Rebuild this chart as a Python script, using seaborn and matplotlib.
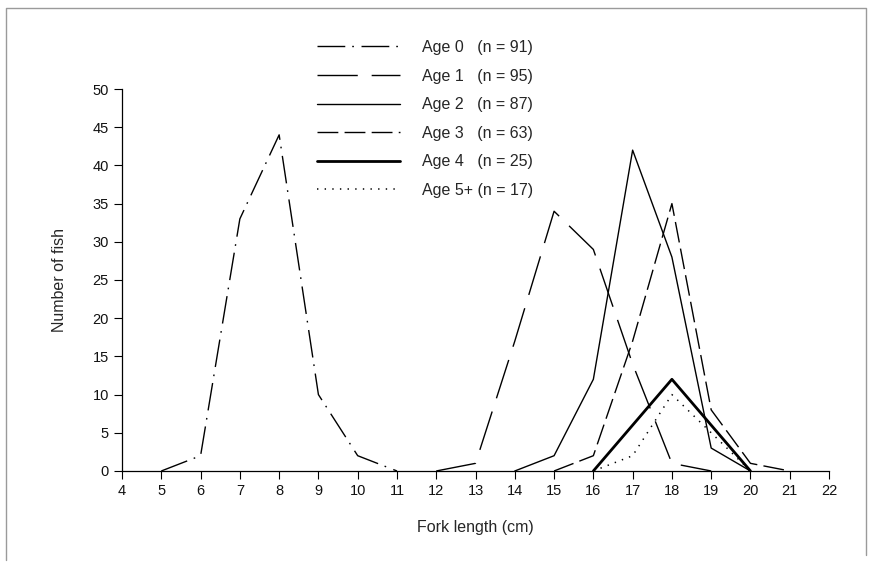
import pandas as pd
import seaborn as sns
import matplotlib.pyplot as plt
from matplotlib.lines import Line2D

# Fork length frequencies per age class
age0_len = [5, 6, 7, 8, 9, 10, 11]
age0_n = [0, 2, 33, 44, 10, 2, 0]
age1_len = [12, 13, 14, 15, 16, 17, 18, 19]
age1_n = [0, 1, 17, 34, 29, 14, 1, 0]
age2_len = [14, 15, 16, 17, 18, 19, 20]
age2_n = [0, 2, 12, 42, 28, 3, 0]
age3_len = [15, 16, 17, 18, 19, 20, 21]
age3_n = [0, 2, 17, 35, 8, 1, 0]
age4_len = [16, 17, 18, 19, 20]
age4_n = [0, 6, 12, 6, 0]
age5_len = [16, 17, 18, 19, 20]
age5_n = [0, 2, 10, 5, 0]

labels = ["Age 0   (n = 91)", "Age 1   (n = 95)", "Age 2   (n = 87)",
          "Age 3   (n = 63)", "Age 4   (n = 25)", "Age 5+ (n = 17)"]
x_ticks = list(range(4, 23))
y_ticks = list(range(0, 51, 5))

sns.set_style("ticks")
plt.rcParams['font.family'] = ['Liberation Sans', 'DejaVu Sans']
plt.rcParams['lines.scale_dashes'] = False

df = pd.concat([
    pd.DataFrame({"length": l, "fish": n, "age": lab})
    for l, n, lab in zip(
        [age0_len, age1_len, age2_len, age3_len, age4_len, age5_len],
        [age0_n, age1_n, age2_n, age3_n, age4_n, age5_n],
        labels)
])

styles = {
    labels[0]: dict(linestyle=(0, (20, 5, 1.2, 5.5)), linewidth=1.0),
    labels[1]: dict(linestyle=(0, (29, 10)), linewidth=1.0),
    labels[2]: dict(linestyle="-", linewidth=1.0),
    labels[3]: dict(linestyle=(0, (15, 4.5)), linewidth=1.0),
    labels[4]: dict(linestyle="-", linewidth=2.0),
    labels[5]: dict(linestyle=(0, (1, 4.5)), linewidth=1.1),
}

fig = plt.figure(figsize=(8.71, 5.75), dpi=100)
ax = fig.add_axes([0.1401, 0.1809, 0.8117, 0.6643])

for lab in labels:
    sub = df[df["age"] == lab]
    sns.lineplot(data=sub, x="length", y="fish", ax=ax, color="black",
                 label=lab, **styles[lab])

ax.set_xlim(4, 22)
ax.set_ylim(0, 50)
ax.set_xticks(x_ticks)
ax.set_yticks(y_ticks)
ax.tick_params(labelsize=10.5, length=6, width=0.8, color="black",
               labelcolor="#111111")
ax.set_xlabel("Fork length (cm)", fontsize=11.5, labelpad=16)
ax.set_ylabel("Number of fish", fontsize=11.5, labelpad=18)
for s in ["left", "bottom"]:
    ax.spines[s].set_linewidth(0.9)
    ax.spines[s].set_color("black")
sns.despine(ax=ax)

leg = ax.legend(loc="upper left", bbox_to_anchor=(317 / 871, 1 - 40 / 575),
                bbox_transform=fig.transFigure, frameon=False, fontsize=11.5,
                handlelength=5.2, handletextpad=1.4, labelspacing=0.85,
                borderpad=0, borderaxespad=0)

# scanned page frame: left, top and right edges
frame_x = [6 / 871, 6 / 871, 866 / 871, 866 / 871]
frame_y = [1 - 560 / 575, 1 - 8 / 575, 1 - 8 / 575, 1 - 555 / 575]
fig.lines.append(Line2D(frame_x, frame_y, transform=fig.transFigure,
                        color="#9a9a9a", linewidth=1))

fig.savefig("out.png", dpi=100)
